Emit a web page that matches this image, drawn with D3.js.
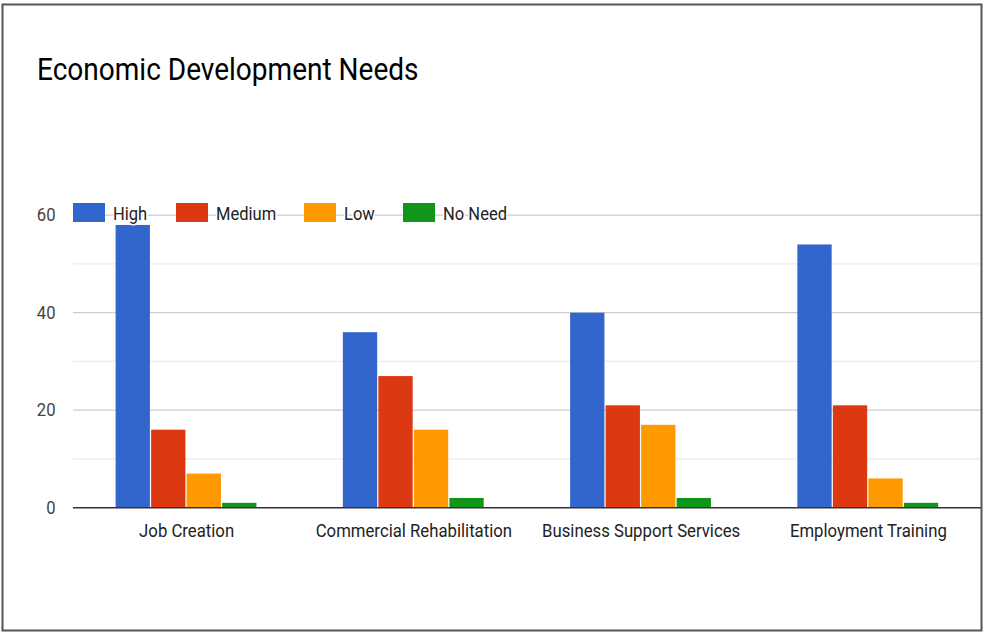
<!DOCTYPE html>
<html><head><meta charset="utf-8">
<script src="https://cdn.jsdelivr.net/npm/d3@7"></script>
<style>html,body{margin:0;padding:0;background:#fff;}svg{display:block;}</style>
</head><body>
<script>
const categories = ["Job Creation", "Commercial Rehabilitation", "Business Support Services", "Employment Training"];
const seriesNames = ["High", "Medium", "Low", "No Need"];
const seriesColors = ["#3366cc", "#dc3912", "#ff9900", "#109618"];
const high = [58, 36, 40, 54];
const medium = [16, 27, 21, 21];
const low = [7, 16, 17, 6];
const noNeed = [1, 2, 2, 1];
const yTicks = [0, 20, 40, 60];
const yMinor = [10, 30, 50];
const title = "Economic Development Needs";

const values = [high, medium, low, noNeed];
const W = 984, H = 632;
const FONT = "Roboto, Arial, sans-serif";
const svg = d3.select("body").append("svg").attr("width", W).attr("height", H);
svg.append("rect").attr("width", W).attr("height", H).attr("fill", "#fff");

const x0 = d3.scaleBand().domain(categories).range([73, 982]).paddingInner(0).paddingOuter(0);
const x1 = d3.scaleBand().domain(seriesNames).range([0, x0.bandwidth()]).paddingInner(0).paddingOuter(1.2);
const y = d3.scaleLinear().domain([0, 60]).range([507.7, 215.2]);

// gridlines
svg.append("g").selectAll("line").data(yMinor).join("line")
  .attr("x1", 73).attr("x2", 982).attr("y1", d => y(d)).attr("y2", d => y(d))
  .attr("stroke", "#ebebeb").attr("stroke-width", 1.3);
svg.append("g").selectAll("line").data(yTicks.filter(d => d !== 0)).join("line")
  .attr("x1", 73).attr("x2", 982).attr("y1", d => y(d)).attr("y2", d => y(d))
  .attr("stroke", "#cccccc").attr("stroke-width", 1.3);

// y labels
svg.append("g").selectAll("text").data(yTicks).join("text")
  .attr("transform", d => `translate(55.5,${y(d) + 6}) scale(0.95,1)`)
  .attr("text-anchor", "end")
  .attr("font-family", FONT).attr("font-size", 17.5).attr("fill", "#444")
  .text(d => d);

// bars
const g = svg.append("g");
categories.forEach((c, ci) => {
  seriesNames.forEach((s, si) => {
    const v = values[si][ci];
    g.append("rect")
      .attr("x", x0(c) + x1(s))
      .attr("y", y(v))
      .attr("width", x1.bandwidth() - 1.2)
      .attr("height", y(0) - y(v))
      .attr("fill", seriesColors[si]);
  });
});

// baseline
svg.append("line").attr("x1", 73).attr("x2", 982).attr("y1", y(0)).attr("y2", y(0))
  .attr("stroke", "#333").attr("stroke-width", 1.6);

// x labels
svg.append("g").selectAll("text").data(categories).join("text")
  .attr("transform", d => `translate(${x0(d) + x0.bandwidth() / 2},537) scale(0.93,1)`)
  .attr("text-anchor", "middle")
  .attr("font-family", FONT).attr("font-size", 18).attr("fill", "#222")
  .text(d => d);

// legend
const legendX = [73, 176, 304, 403];
const lg = svg.append("g");
seriesNames.forEach((s, i) => {
  lg.append("rect").attr("x", legendX[i]).attr("y", 203).attr("width", 32).attr("height", 19)
    .attr("fill", seriesColors[i]);
  lg.append("text").attr("transform", `translate(${legendX[i] + 40},219.5) scale(0.92,1)`)
    .attr("font-family", FONT).attr("font-size", 18).attr("fill", "#222")
    .attr("stroke", "#fff").attr("stroke-width", 3).attr("paint-order", "stroke")
    .text(s);
});

// title
svg.append("text").attr("transform", "translate(37,80) scale(0.89,1)")
  .attr("font-family", FONT).attr("font-size", 31.5).attr("fill", "#000")
  .text(title);

// frame
svg.append("rect").attr("x", 2.5).attr("y", 4.5).attr("width", 979).attr("height", 626)
  .attr("fill", "none").attr("stroke", "#555").attr("stroke-width", 2);
</script>
</body></html>
